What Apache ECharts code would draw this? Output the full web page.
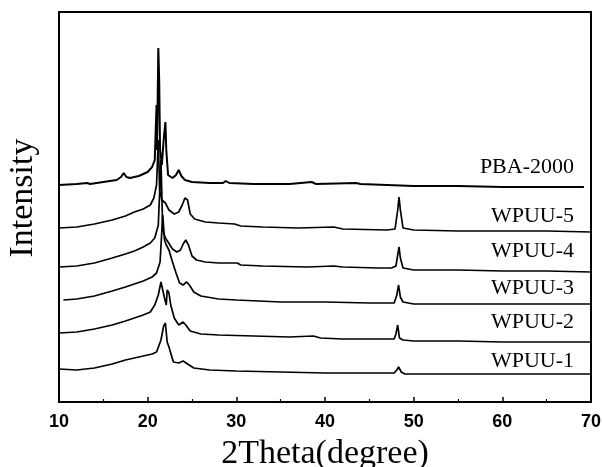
<!DOCTYPE html>
<html>
<head>
<meta charset="utf-8">
<script src="https://cdn.jsdelivr.net/npm/echarts@6/dist/echarts.min.js"></script>
<style>html,body{margin:0;padding:0;background:#fff;}#c{width:602px;height:467px;}</style>
</head>
<body>
<div id="c"></div>
<script>
// 2θ ticks
const xTicks = [10, 20, 30, 40, 50, 60, 70];
const seriesNames = ['PBA-2000', 'WPUU-5', 'WPUU-4', 'WPUU-3', 'WPUU-2', 'WPUU-1'];

// [2theta, intensity (offset, a.u.)]
const pba2000 = [[10,217],[12,218],[13.2,219],[13.5,218],[15,220],[16.5,222],[17.0,225],[17.3,229],[17.6,225],[18,224],[19,226],[20,230],[20.5,235],[20.8,242],[21.0,297],[21.05,252],[21.1,282],[21.2,354],[21.3,322],[21.4,252],[21.6,237],[21.8,262],[22.0,280],[22.1,252],[22.3,227],[22.8,224],[23.2,227],[23.5,232],[23.8,226],[24.2,222],[25,220],[27,219],[28.5,219],[28.8,221],[29.2,219],[32,218],[36,218],[38.5,220],[39,218],[43.5,219],[44,218],[50,216],[55,216],[60,215],[65,215],[69.2,215]];
const wpuu5 = [[10,174],[12,175],[14,178],[16,182],[17.5,186],[18.5,190],[19.5,193],[20.3,197],[20.7,204],[21.0,217],[21.2,262],[21.35,212],[21.6,202],[22.0,199],[22.4,192],[23.0,188],[23.5,190],[23.9,197],[24.2,204],[24.5,202],[24.8,188],[25.3,183],[26.5,180],[28,179],[29.8,178],[30.5,176],[33,175],[37,174],[41,175],[42,173],[47,172],[47.9,173],[48.2,192],[48.35,205],[48.5,192],[48.8,174],[50,172],[55,171],[60,171],[65,171],[70,170]];
const wpuu4 = [[10,135],[12,136],[14,139],[16,144],[17.5,148],[18.5,151],[19.5,155],[20.3,159],[20.8,164],[21.2,177],[21.5,242],[21.7,172],[22.0,164],[22.3,160],[22.8,153],[23.3,150],[23.7,152],[24.0,158],[24.3,162],[24.6,157],[25.0,146],[25.5,142],[26.5,140],[28,139],[30.1,139],[30.5,137],[33,136],[38,135],[41,136],[42,135],[46,134],[47.5,134],[48.0,136],[48.2,147],[48.35,155],[48.5,144],[48.8,134],[50,132],[55,132],[60,131],[65,131],[70,130]];
const wpuu3 = [[10.5,102],[12,103],[14,106],[16,111],[17.5,115],[18.5,118],[19.5,121],[20.5,125],[21.0,129],[21.4,140],[21.7,187],[21.9,162],[22.1,157],[22.4,152],[22.8,140],[23.2,129],[23.6,119],[24.0,117],[24.4,120],[24.7,117],[25.2,110],[26,106],[28,103],[30,102],[35,100],[40,100],[45,99],[47.8,99],[48.1,107],[48.3,117],[48.5,105],[48.8,100],[50,98],[55,98],[60,98],[65,98],[70,98]];
const wpuu2 = [[10,69],[12,70],[14,73],[16,77],[17.5,81],[18.5,84],[19.5,87],[20.3,90],[20.8,97],[21.2,107],[21.5,120],[21.7,122],[21.9,104],[22.1,97],[22.2,112],[22.4,109],[22.6,97],[23.0,84],[23.5,77],[24.0,80],[24.3,77],[24.8,71],[26,68],[28,67],[32,66],[36,65],[38.7,66],[39.5,64],[42,63],[47.8,63],[48.0,68],[48.2,77],[48.4,64],[48.8,62],[50,61],[55,61],[60,60],[65,60],[70,60]];
const wpuu1 = [[10,33],[12,32],[14,34],[16,38],[17.5,42],[18.5,44],[19.5,46],[20.5,48],[21.0,50],[21.5,62],[21.8,76],[22.0,79],[22.2,60],[22.4,55],[22.6,54],[22.9,40],[23.5,39],[24.0,41],[24.5,38],[25.2,34],[27,32],[30,31],[35,30],[40,29],[45,29],[47.8,29],[48.1,32],[48.3,35],[48.6,30],[49,28],[55,28],[60,28],[65,28],[70,28]];

const allData = [pba2000, wpuu5, wpuu4, wpuu3, wpuu2, wpuu1];
const labelY = [168, 217, 252, 289, 323, 362];

const chart = echarts.init(document.getElementById('c'));
const series = allData.map((d, i) => ({
  name: seriesNames[i],
  type: 'line',
  data: d,
  showSymbol: false,
  symbol: 'none',
  sampling: 'none',
  animation: false,
  z: 10 - i,
  lineStyle: { color: '#000', width: i === 0 ? 2 : 1.7 }
}));

chart.setOption({
  backgroundColor: '#fff',
  animation: false,
  grid: { left: 59, right: 11, top: 12, bottom: 65, containLabel: false, outerBoundsMode: 'none',
    show: true, borderColor: '#000', borderWidth: 2, backgroundColor: 'transparent' },
  xAxis: {
    type: 'value', min: 10, max: 70, interval: 10,
    name: '2Theta(degree)', nameLocation: 'middle', nameGap: 35,
    nameTextStyle: { fontFamily: 'Liberation Serif', fontSize: 34, color: '#000' },
    axisLine: { show: true, onZero: false, lineStyle: { color: '#000', width: 2 } },
    axisTick: { show: true, inside: true, length: 5, lineStyle: { color: '#000', width: 1.5 } },
    minorTick: { show: true, splitNumber: 2, length: 3, lineStyle: { color: '#000', width: 1.2 } },
    splitLine: { show: false },
    axisLabel: { color: '#000', fontFamily: 'Liberation Sans', fontWeight: 'bold', fontSize: 18, margin: 11,
      formatter: v => xTicks.includes(v) ? String(v) : '' }
  },
  yAxis: {
    type: 'value', min: 0, max: 390,
    name: 'Intensity', nameLocation: 'middle', nameGap: 19, nameRotate: 90,
    nameTextStyle: { fontFamily: 'Liberation Serif', fontSize: 34, color: '#000', padding: [0, 0, 0, 18] },
    axisLine: { show: true, lineStyle: { color: '#000', width: 2 } },
    axisTick: { show: false }, axisLabel: { show: false }, splitLine: { show: false }
  },
  graphic: seriesNames.map((n, i) => ({
    type: 'text', right: 28, top: labelY[i] - 12,
    style: { text: n, fontFamily: 'Liberation Serif', fontSize: 22, fill: '#000' }
  })),
  series: series
});
</script>
</body>
</html>
